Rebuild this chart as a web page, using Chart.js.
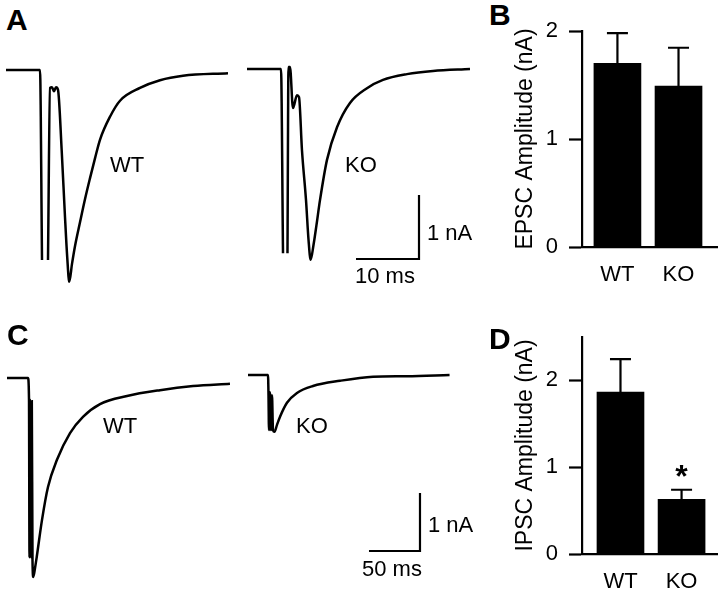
<!DOCTYPE html>
<html lang="en">
<head>
<meta charset="UTF-8" />
<title>EPSC / IPSC, WT vs KO</title>
<style>
  body { margin: 0; background: #fff; font-family: "Liberation Sans", Arial, sans-serif; }
  #fig { position: relative; width: 720px; height: 592px; overflow: hidden; background: #fff; }
  #fig canvas { position: absolute; }
  .lbl { position: absolute; font-size: 22px; line-height: 22px; color: #000; white-space: nowrap; }
  .panel { position: absolute; font-size: 30px; line-height: 30px; font-weight: bold; color: #000; }
</style>
</head>
<body>
<div id="fig">
  <canvas id="traceA" width="490" height="250" style="left:0;top:40px"></canvas>
  <canvas id="barB" width="208" height="296" style="left:512px;top:0"></canvas>
  <canvas id="traceC" width="490" height="252" style="left:0;top:340px"></canvas>
  <canvas id="barD" width="208" height="296" style="left:512px;top:296px"></canvas>

  <div class="panel" style="left:6px;top:5px">A</div>
  <div class="panel" style="left:489px;top:0">B</div>
  <div class="panel" style="left:7px;top:320px">C</div>
  <div class="panel" style="left:489px;top:324px">D</div>

  <div class="lbl" style="left:110px;top:154px">WT</div>
  <div class="lbl" style="left:345px;top:154px">KO</div>
  <div class="lbl" style="left:427px;top:222px">1 nA</div>
  <div class="lbl" style="left:355px;top:265px">10 ms</div>

  <div class="lbl" style="left:103px;top:415px">WT</div>
  <div class="lbl" style="left:296px;top:415px">KO</div>
  <div class="lbl" style="left:428px;top:514px">1 nA</div>
  <div class="lbl" style="left:362px;top:558px">50 ms</div>
</div>

<script src="https://cdn.jsdelivr.net/npm/chart.js"></script>
<script>
// example traces: [time (ms), current (nA)], null = break in the line (stim artifact)
const epscWT = [
  [-5.4, 0], [0, 0], [0.32, -2.97], [0.8, null], [1.27, -2.97], [1.59, -0.28], [1.9, -0.27],
  [2.22, -0.33], [2.54, -0.27], [2.86, -0.31], [3.44, -1.25], [3.97, -2.30], [4.33, -2.94],
  [4.65, -3.31], [5.08, -3.03], [5.56, -2.75], [6.35, -2.38], [7.14, -2.02], [7.94, -1.69],
  [8.73, -1.38], [9.52, -1.09], [11.11, -0.73], [12.7, -0.48], [15.87, -0.28], [19.05, -0.16],
  [22.7, -0.09], [29.84, -0.05]
];
const epscKO = [
  [-5.4, 0], [0, 0], [0.32, -2.88], [0.65, null], [1.03, -2.88], [1.19, 0.03], [1.43, 0.03],
  [1.9, -0.61], [2.54, -0.41], [2.86, -0.44], [3.33, -1.27], [3.97, -2.05], [4.37, -2.67],
  [4.71, -2.98], [5.16, -2.75], [5.63, -2.44], [6.19, -2.05], [7.3, -1.42], [8.89, -0.91],
  [10.95, -0.53], [13.65, -0.30], [16.19, -0.17], [20.0, -0.08], [24.13, -0.03], [30.0, 0]
];
const ipscWT = [
  [-20.6, 0], [0, 0], [0.98, -0.36], [1.47, -3.09], [2.25, -0.38], [2.94, -3.09], [3.73, -0.40],
  [4.41, -3.14], [5.2, -3.43], [6.86, -3.28], [8.53, -3.09], [13.7, -2.45], [19.6, -1.88],
  [28.4, -1.41], [41.2, -0.95], [53.9, -0.67], [70.6, -0.45], [97.1, -0.31], [129.4, -0.21],
  [161.8, -0.14], [198.0, -0.10]
];
const ipscKO = [
  [-19.6, 0], [0, 0], [0.49, -0.34], [0.98, -0.95], [1.96, -0.30], [2.94, -0.95], [3.92, -0.35],
  [4.9, -0.95], [6.37, -0.98], [8.82, -0.86], [11.8, -0.72], [18.6, -0.48], [28.4, -0.31],
  [44.1, -0.19], [70.6, -0.10], [103, -0.03], [136, -0.02], [178, 0]
];

// bar panels
const groups = ['WT', 'KO'];
const epscMean = [1.70, 1.49];
const epscSem = [0.28, 0.355];
const ipscMean = [1.865, 0.63];
const ipscSem = [0.38, 0.11];
const ipscSig = [false, true];

const FONT = 'Liberation Sans, Arial, sans-serif';

function toXY(arr, dt, dy) {
  return arr.map(p => ({ x: p[0] + dt, y: p[1] === null ? null : p[1] + dy }));
}

// trace panel: WT at t=0, KO shifted right, plus an L-shaped scale bar
function traceChart(id, wt, ko, koShift, koLift, xr, yr, bar) {
  const line = { showLine: true, pointRadius: 0, borderColor: '#000', borderWidth: 2.5,
                 cubicInterpolationMode: 'monotone', spanGaps: false, clip: false };
  new Chart(document.getElementById(id), {
    type: 'scatter',
    data: {
      datasets: [
        { ...line, data: toXY(wt, 0, 0) },
        { ...line, data: toXY(ko, koShift, koLift) },
        { ...line, borderWidth: 2.2, cubicInterpolationMode: 'default', tension: 0,
          data: [{ x: bar.t, y: bar.i }, { x: bar.t + bar.ms, y: bar.i }, { x: bar.t + bar.ms, y: bar.i + bar.nA }] }
      ]
    },
    options: {
      responsive: false, animation: false, devicePixelRatio: 1,
      layout: { padding: 0 },
      plugins: { legend: { display: false }, tooltip: { enabled: false } },
      scales: {
        x: { type: 'linear', display: false, min: xr[0], max: xr[1] },
        y: { type: 'linear', display: false, min: yr[0], max: yr[1] }
      }
    }
  });
}

traceChart('traceA', epscWT, epscKO, 38.254, 0.016, [-6.349, 71.43], [-3.4375, 0.469],
  { t: 50.16, i: -2.953, ms: 10, nA: 1 });
traceChart('traceC', ipscWT, ipscKO, 235.29, 0.052, [-27.45, 452.94], [-3.69, 0.655],
  { t: 334.3, i: -2.983, ms: 50, nA: 1 });

const errorBars = {
  id: 'errorBars',
  afterDatasetsDraw(chart, args, opts) {
    const { ctx, scales: { x, y } } = chart;
    const pts = chart.data.datasets[0].data;
    ctx.save();
    ctx.strokeStyle = '#000';
    ctx.fillStyle = '#000';
    ctx.lineWidth = 2.2;
    pts.forEach((p, i) => {
      const px = x.getPixelForValue(p.x);
      const top = y.getPixelForValue(p.y + opts.sem[i]);
      ctx.beginPath();
      ctx.moveTo(px, y.getPixelForValue(p.y));
      ctx.lineTo(px, top);
      ctx.moveTo(px - 10.5, top);
      ctx.lineTo(px + 10.5, top);
      ctx.stroke();
      if (opts.sig && opts.sig[i]) {
        ctx.font = 'bold 32px ' + FONT;
        ctx.textAlign = 'center';
        ctx.textBaseline = 'alphabetic';
        ctx.fillText('*', px, top - 3);
      }
    });
    ctx.restore();
  }
};

function barChart(id, means, sem, sig, yMax, xMin, padTop, axisH, title) {
  const font = { family: FONT, size: 22 };
  new Chart(document.getElementById(id), {
    type: 'bar',
    data: {
      datasets: [{
        data: means.map((m, i) => ({ x: i + 1, y: m })),
        backgroundColor: '#000', borderWidth: 0, barThickness: 47
      }]
    },
    options: {
      responsive: false, animation: false, devicePixelRatio: 1,
      layout: { padding: { top: padTop, right: 3, left: 0, bottom: 0 } },
      plugins: {
        legend: { display: false }, tooltip: { enabled: false },
        errorBars: { sem: sem, sig: sig }
      },
      scales: {
        x: {
          type: 'linear', offset: false, min: xMin, max: xMin + 2.21,
          afterBuildTicks: s => { s.ticks = groups.map((g, i) => ({ value: i + 1 })); },
          afterFit: s => { s.height = axisH; },
          grid: { display: true, drawOnChartArea: false, drawTicks: false },
          border: { display: true, color: '#000', width: 2.2 },
          ticks: { color: '#000', font: font, padding: 15, maxRotation: 0,
                   callback: v => groups[v - 1] }
        },
        y: {
          min: 0, max: yMax,
          afterBuildTicks: s => { s.ticks = [0, 1, 2].map(v => ({ value: v })); },
          afterFit: s => { s.width = 70; },
          grid: { display: true, drawOnChartArea: false, drawTicks: true,
                  tickLength: 13, tickWidth: 2.2, tickColor: '#000' },
          border: { display: true, color: '#000', width: 2.2 },
          ticks: { color: '#000', font: font, padding: 11 },
          title: { display: true, text: title, color: '#000',
                   font: { family: FONT, size: 23 }, padding: 0 }
        }
      }
    },
    plugins: [errorBars]
  });
}

barChart('barB', epscMean, epscSem, null, 2, 0.42, 31, 49, 'EPSC Amplitude (nA)');
barChart('barD', ipscMean, ipscSem, ipscSig, 2.5, 0.37, 41, 38, 'IPSC Amplitude (nA)');
</script>
</body>
</html>
